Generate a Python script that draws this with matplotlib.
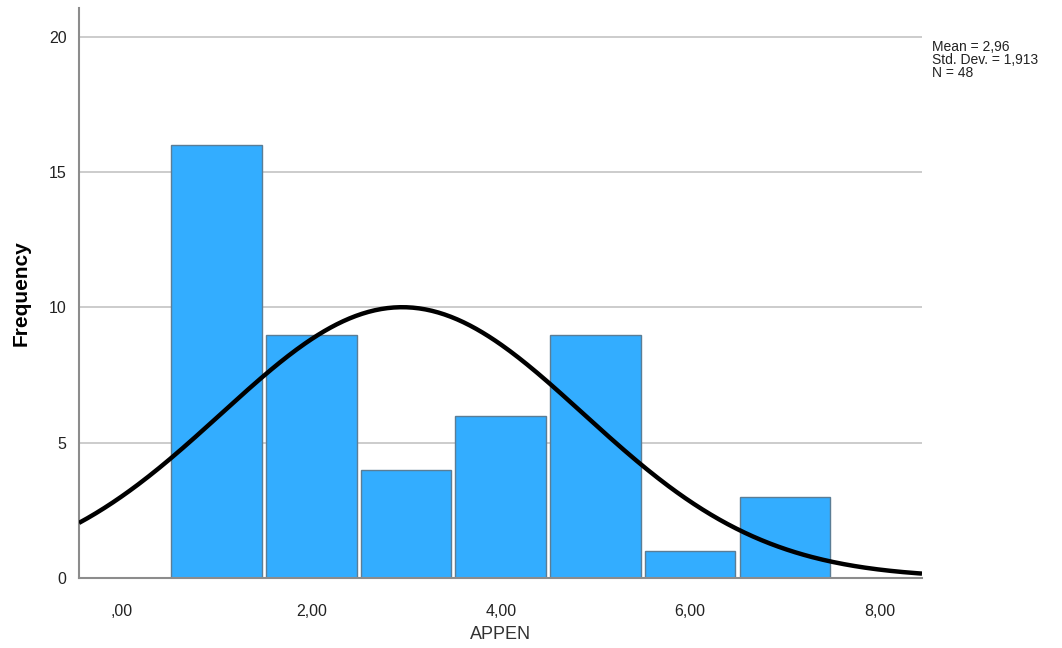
import numpy as np
import matplotlib
matplotlib.use("Agg")
import matplotlib.pyplot as plt

# Data
bin_centers = [1, 2, 3, 4, 5, 6, 7]
frequencies = [16, 9, 4, 6, 9, 1, 3]
x_ticks = [0, 2, 4, 6, 8]
x_tick_labels = [",00", "2,00", "4,00", "6,00", "8,00"]
y_ticks = [0, 5, 10, 15, 20]
mean_val = 2.96
std_val = 1.913
n_val = 48
bin_width = 1.0

plt.rcParams['font.family'] = ['Liberation Sans', 'DejaVu Sans']

fig = plt.figure(figsize=(10.62, 6.48), dpi=100)
ax = fig.add_axes([79/1062, 1-578/648, (922-79)/1062, (578-8)/648])

ax.set_xlim(-0.454, 8.45)
ax.set_ylim(0, 21.07)

for yt in y_ticks[1:]:
    ax.axhline(yt, color='#c8c8c8', lw=1.3, zorder=0)

ax.bar(bin_centers, frequencies, width=0.955, color='#33adff',
       edgecolor='#5b7d95', linewidth=1.0, zorder=2)

xs = np.linspace(-0.454, 8.45, 400)
ys = n_val * bin_width / (std_val * np.sqrt(2*np.pi)) * np.exp(-0.5*((xs-mean_val)/std_val)**2)
ax.plot(xs, ys, color='black', lw=3.2, zorder=3, solid_capstyle='butt')

for s in ['top', 'right']:
    ax.spines[s].set_visible(False)
for s in ['left', 'bottom']:
    ax.spines[s].set_color('#8c8c8c')
    ax.spines[s].set_linewidth(1.5)

ax.set_xticks(x_ticks)
ax.set_xticklabels(x_tick_labels)
ax.set_yticks(y_ticks)
ax.tick_params(axis='both', length=0, labelsize=11.5, colors='#222222')
ax.tick_params(axis='x', pad=19)
ax.tick_params(axis='y', pad=9)

ax.set_xlabel("APPEN", fontsize=13, color='#333333')
ax.xaxis.set_label_coords(0.5, -(626-578)/570)
ax.set_ylabel("Frequency", fontsize=15, fontweight='bold', color='black')
ax.yaxis.set_label_coords(-(79-31)/843, 0.5)

fig.text(932/1062, 1-60/648, "Mean = 2,96\nStd. Dev. = 1,913\nN = 48",
         fontsize=10, va='center', ha='left', linespacing=0.95, color='#222222')

fig.savefig("out.png", dpi=100)
